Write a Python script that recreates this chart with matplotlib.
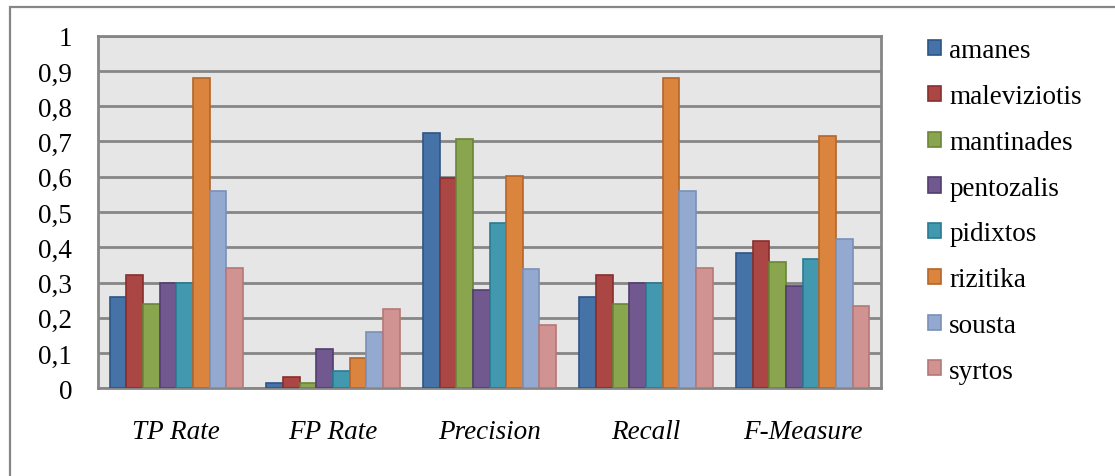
import matplotlib
matplotlib.use("Agg")
import matplotlib.pyplot as plt
from matplotlib.patches import Rectangle
import numpy as np

metrics = ["TP Rate", "FP Rate", "Precision", "Recall", "F-Measure"]
classes = ["amanes", "maleviziotis", "mantinades", "pentozalis",
           "pidixtos", "rizitika", "sousta", "syrtos"]

amanes = [0.26, 0.016, 0.724, 0.26, 0.384]
maleviziotis = [0.32, 0.033, 0.596, 0.32, 0.417]
mantinades = [0.24, 0.015, 0.707, 0.24, 0.357]
pentozalis = [0.30, 0.112, 0.278, 0.30, 0.290]
pidixtos = [0.30, 0.050, 0.469, 0.30, 0.368]
rizitika = [0.88, 0.085, 0.603, 0.88, 0.715]
sousta = [0.56, 0.159, 0.338, 0.56, 0.423]
syrtos = [0.34, 0.226, 0.179, 0.34, 0.233]

series = [amanes, maleviziotis, mantinades, pentozalis,
          pidixtos, rizitika, sousta, syrtos]

yticks = [0, 0.1, 0.2, 0.3, 0.4, 0.5, 0.6, 0.7, 0.8, 0.9, 1]
ytick_labels = ["0", "0,1", "0,2", "0,3", "0,4", "0,5", "0,6", "0,7", "0,8", "0,9", "1"]

face_colors = ["#4573A7", "#AA4643", "#89A54E", "#71588F",
               "#4198AF", "#DB843D", "#93A9CF", "#D19392"]
edge_colors = ["#2E5486", "#8A2F2C", "#6A8536", "#523D70",
               "#2A7A90", "#B5652A", "#7A90B8", "#B57876"]

plt.rcParams["font.family"] = ["Liberation Serif", "DejaVu Serif"]
FS = 19.5

fig = plt.figure(figsize=(11.15, 4.77), dpi=100)

# outer chart frame (runs off the right and bottom edges)
frame = Rectangle((10 / 1115, -0.05), 1.2, 1 - 7.5 / 477 + 0.05,
                  transform=fig.transFigure, fill=False,
                  edgecolor="#868686", linewidth=1.6, clip_on=False)
fig.patches.append(frame)

ax = fig.add_axes([98 / 1115, 1 - 389.3 / 477, (881 - 98) / 1115, (389.3 - 36.7) / 477])
ax.set_facecolor("#E6E6E6")

x = np.arange(len(metrics))
n = len(series)
bw = 0.1064
for i, (vals, fc, ec, name) in enumerate(zip(series, face_colors, edge_colors, classes)):
    offs = (i - (n - 1) / 2) * bw
    ax.bar(x + offs, vals, width=bw, color=fc, edgecolor=ec,
           linewidth=1.2, label=name, zorder=3)

ax.set_xlim(-0.5, len(metrics) - 0.5)
ax.set_ylim(0, 1)
ax.set_yticks(yticks)
ax.set_yticklabels(ytick_labels, fontsize=FS)
ax.set_xticks(x)
ax.set_xticklabels(metrics, fontsize=FS, style="italic")
ax.tick_params(axis="both", length=0)
ax.tick_params(axis="y", pad=18.5)
ax.tick_params(axis="x", pad=22)
ax.yaxis.grid(True, color="#868686", linewidth=2.0, zorder=1)
ax.set_axisbelow(True)
for s in ax.spines.values():
    s.set_color("#868686")
    s.set_linewidth(2.0)

leg = fig.legend(loc="upper left", bbox_to_anchor=(928 / 1115, 1 - 39.5 / 477),
                 frameon=False, fontsize=FS, handlelength=0.48,
                 handleheight=0.48, handletextpad=0.3, labelspacing=0.765,
                 borderpad=0, borderaxespad=0)

fig.savefig("out.png", dpi=100, facecolor="white")
